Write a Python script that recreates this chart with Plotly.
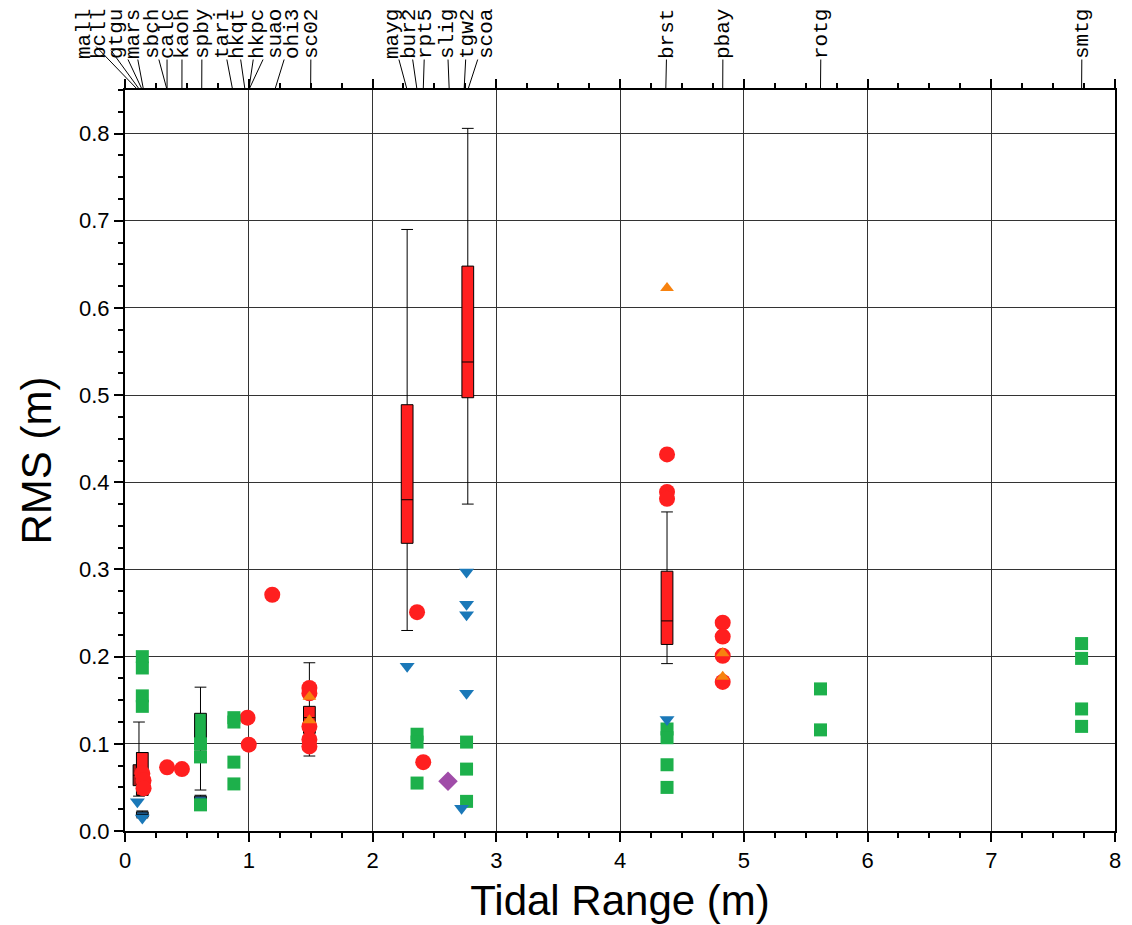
import plotly.graph_objects as go

# ---------------- data ----------------
stations = ["mall", "bcll", "gtgu", "mars", "sbch", "calc", "kaoh", "spby", "tari", "hkqt",
            "hkpc", "suao", "ohi3", "sc02", "mayg", "bur2", "rpt5", "slig", "tgw2", "scoa",
            "brst", "pbay", "rotg", "smtg"]
station_range = [0.105, 0.12, 0.14, 0.15, 0.34, 0.34, 0.46, 0.62, 0.87, 0.97,
                 1.0, 1.0, 1.21, 1.5, 2.28, 2.36, 2.41, 2.62, 2.74, 2.77,
                 4.37, 4.83, 5.62, 7.73]

# box summaries
box_x = [0.113, 0.14, 0.14, 0.61, 0.61, 1.49, 2.28, 2.77, 4.38]
box_lf = [0.040, 0.041, 0.015, 0.047, 0.032, 0.086, 0.230, 0.375, 0.192]
box_q1 = [0.052, 0.041, 0.016, 0.093, 0.033, 0.112, 0.330, 0.497, 0.214]
box_med = [0.064, 0.060, 0.019, 0.100, 0.036, 0.130, 0.380, 0.538, 0.241]
box_q3 = [0.076, 0.090, 0.022, 0.135, 0.040, 0.143, 0.489, 0.648, 0.298]
box_uf = [0.125, 0.090, 0.023, 0.165, 0.041, 0.193, 0.690, 0.806, 0.366]
box_color = ["#a81c1c", "#ff1f1f", "#1c5a8c", "#1db04b", "#1c5a8c",
             "#ff1f1f", "#ff1f1f", "#ff1f1f", "#ff1f1f"]

red_x = [0.14, 0.15, 0.15, 0.34, 0.46, 0.99, 1.0, 1.19, 1.49, 1.49, 1.49, 1.49, 1.49,
         2.36, 2.41, 4.38, 4.38, 4.38, 4.83, 4.83, 4.83, 4.83]
red_y = [0.066, 0.058, 0.049, 0.073, 0.071, 0.130, 0.099, 0.271, 0.164, 0.158, 0.120, 0.105, 0.097,
         0.251, 0.079, 0.432, 0.389, 0.381, 0.239, 0.223, 0.201, 0.171]

green_x = [0.14, 0.14, 0.14, 0.14, 0.61, 0.61, 0.61, 0.88, 0.88, 0.88, 0.88,
           2.36, 2.36, 2.36, 2.76, 2.76, 2.76, 4.38, 4.38, 4.38, 4.38,
           5.62, 5.62, 7.73, 7.73, 7.73, 7.73]
green_y = [0.200, 0.187, 0.155, 0.143, 0.100, 0.085, 0.030, 0.130, 0.125, 0.079, 0.054,
           0.111, 0.102, 0.055, 0.102, 0.071, 0.034, 0.117, 0.107, 0.076, 0.050,
           0.163, 0.116, 0.215, 0.198, 0.140, 0.120]

blue_x = [0.10, 0.14, 2.28, 2.76, 2.76, 2.76, 2.76, 2.72, 4.38]
blue_y = [0.0335, 0.015, 0.189, 0.297, 0.260, 0.248, 0.158, 0.026, 0.128]

orange_x = [1.49, 1.49, 4.38, 4.83, 4.83]
orange_y = [0.154, 0.127, 0.623, 0.204, 0.177]

purple_x = [2.61]
purple_y = [0.057]

# ---------------- layout constants ----------------
# the page body adds an 8px offset, so the figure is 8px smaller than the window
W, H = 1124, 917
ML, MR, MT, MB = 117, 17, 82, 94
XMAX = 8
label_px = [84, 99, 116, 133, 152, 167, 182, 202, 222, 237, 257, 275, 292, 311,
            392, 409, 425, 447, 467, 486, 667, 723, 821, 1082]  # page pixels
PAGE_OFF = 8
px_per_unit = (W - ML - MR) / XMAX

fig = go.Figure()

for i in range(len(box_x)):
    fig.add_trace(go.Box(
        x=[box_x[i]], q1=[box_q1[i]], median=[box_med[i]], q3=[box_q3[i]],
        lowerfence=[box_lf[i]], upperfence=[box_uf[i]],
        width=0.095, whiskerwidth=1.0,
        fillcolor=box_color[i], line=dict(color="black", width=1),
        boxpoints=False, showlegend=False, hoverinfo="skip"))

def scat(x, y, symbol, color, size):
    fig.add_trace(go.Scatter(x=x, y=y, mode="markers", showlegend=False,
                             marker=dict(symbol=symbol, color=color, size=size,
                                         line=dict(width=0)), cliponaxis=False))

scat(red_x, red_y, "circle", "#ff1f1f", 16)
scat(green_x, green_y, "square", "#1db04b", 13)
scat(blue_x, blue_y, "triangle-down", "#1a78b8", 13)
scat(orange_x, orange_y, "triangle-up", "#f7820f", 12)
scat(purple_x, purple_y, "diamond", "#a04ca8", 15)

# top station labels with leader lines
for name, xr, lp in zip(stations, station_range, label_px):
    sx = PAGE_OFF + ML + xr * px_per_unit
    fig.add_annotation(
        x=xr, y=1.0, xref="x", yref="paper",
        text=name, textangle=-90, showarrow=True,
        ax=lp - sx, ay=-56, axref="pixel", ayref="pixel",
        arrowhead=0, arrowwidth=1, arrowcolor="black", standoff=0,
        font=dict(family="Liberation Mono, Courier New, monospace", size=21, color="black"),
        borderpad=0)

font_main = "Arial, Liberation Sans, sans-serif"
fig.update_layout(
    width=W, height=H, margin=dict(l=ML, r=MR, t=MT, b=MB, autoexpand=False),
    paper_bgcolor="white", plot_bgcolor="white", boxmode="overlay",
    font=dict(family=font_main, color="black"),
    xaxis=dict(range=[0, XMAX], dtick=1, tick0=0, ticks="outside", ticklen=9, tickwidth=1.5,
               tickcolor="black", showline=True, linecolor="black", linewidth=2, mirror="ticks",
               showgrid=True, gridcolor="#333333", gridwidth=1, zeroline=False, automargin=False,
               tickfont=dict(size=22, family=font_main),
               minor=dict(dtick=0.25, ticks="outside", ticklen=5, tickcolor="black", showgrid=False),
               title=dict(text="Tidal Range (m)", font=dict(size=42, family=font_main), standoff=13)),
    yaxis=dict(range=[0, 0.85], dtick=0.1, tick0=0, tickformat=".1f", ticks="outside", ticklen=9,
               tickwidth=1.5, tickcolor="black", showline=True, linecolor="black", linewidth=2,
               mirror=True, showgrid=True, gridcolor="#333333", gridwidth=1, zeroline=False,
               automargin=False,
               tickfont=dict(size=22, family=font_main),
               minor=dict(dtick=0.025, ticks="outside", ticklen=5, tickcolor="black", showgrid=False),
               title=dict(text="RMS (m)", font=dict(size=42, family=font_main), standoff=14)),
)

fig.write_html("out.html")
